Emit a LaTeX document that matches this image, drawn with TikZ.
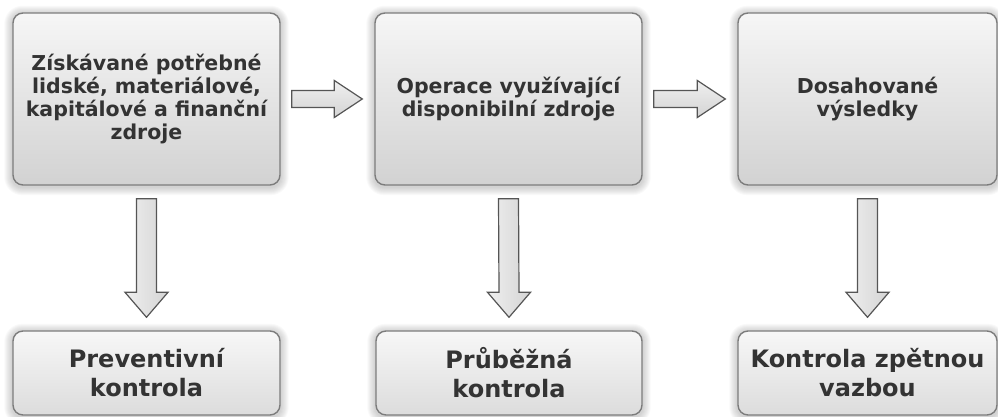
\documentclass[tikz,border=0pt]{standalone}
\usepackage{fontspec}
\setmainfont{DejaVu Sans}
\usetikzlibrary{calc,backgrounds}

\definecolor{boxtop}{HTML}{F6F6F6}
\definecolor{boxbottom}{HTML}{D2D2D2}
\definecolor{lowtop}{HTML}{F7F7F7}
\definecolor{lowbottom}{HTML}{DCDCDC}
\definecolor{boxline}{HTML}{7C7C7C}
\definecolor{arrowline}{HTML}{555555}
\definecolor{arrowtop}{HTML}{EFEFEF}
\definecolor{arrowbottom}{HTML}{D4D4D4}
\definecolor{labeltext}{HTML}{333333}

\tikzset{
  stagebox/.style={draw=boxline, line width=1.4pt, rounded corners=10pt,
    top color=boxtop, bottom color=boxbottom, minimum height=172pt,
    inner sep=4pt, align=center, text=labeltext,
    font=\bfseries\fontsize{20.5}{23}\selectfont},
  controlbox/.style={draw=boxline, line width=1.4pt, rounded corners=10pt,
    top color=lowtop, bottom color=lowbottom, minimum height=84pt,
    inner sep=4pt, align=center, text=labeltext,
    font=\bfseries\fontsize{24}{29}\selectfont},
  blockarrow/.style={draw=arrowline, line width=1.2pt, line join=miter,
    top color=arrowtop, bottom color=arrowbottom},
  downarrow/.style={draw=arrowline, line width=1.2pt, line join=miter,
    left color=arrowtop, right color=arrowbottom},
}

% right-pointing block arrow between two boxes in a row
\newcommand\rightblock[2]{%
  \path[blockarrow]
    ($(#1.east)+(11,8.5)$) -- ($(#2.west)+(-40,8.5)$) --
    ($(#2.west)+(-40,18.5)$) -- ($(#2.west)+(-12,0)$) --
    ($(#2.west)+(-40,-18.5)$) -- ($(#2.west)+(-40,-8.5)$) --
    ($(#1.east)+(11,-8.5)$) -- cycle;}
% downward block arrow from a stage to its control box
\newcommand\downblock[2]{%
  \path[downarrow]
    ($(#1.south)+(-10,-13)$) -- ($(#2.north)+(-10,38)$) --
    ($(#2.north)+(-21.5,38)$) -- ($(#2.north)+(0,13)$) --
    ($(#2.north)+(21.5,38)$) -- ($(#2.north)+(10,38)$) --
    ($(#1.south)+(10,-13)$) -- cycle;}

\begin{document}
\begin{tikzpicture}[x=1pt,y=1pt]
\useasboundingbox (0,0) rectangle (998,417);

% stages
\node[stagebox, minimum width=267pt] (s1) at (146.5,318)
  {Získávané potřebné\\lidské, materiálové,\\kapitálové a finanční\\zdroje};
\node[stagebox, minimum width=267pt] (s2) at (508.5,318)
  {Operace využívající\\disponibilní zdroje};
\node[stagebox, minimum width=259pt] (s3) at (867.5,318)
  {Dosahované\\výsledky};

% kinds of control
\node[controlbox, minimum width=267pt] (c1) at (146.5,44)
  {Preventivní\\kontrola};
\node[controlbox, minimum width=266pt] (c2) at (509,44)
  {Průběžná\\kontrola};
\node[controlbox, minimum width=259pt] (c3) at (867.5,44)
  {Kontrola zpětnou\\vazbou};

% soft shadows behind the boxes
\begin{scope}[on background layer]
  \foreach \b in {s1,s2,s3,c1,c2,c3}{
    \foreach \i in {1,...,8}{
      \pgfmathsetmacro\rr{10+\i}
      \fill[black, opacity=0.022, rounded corners=\rr pt]
        ($(\b.south west)+(-\i,-\i-1.5)$) rectangle ($(\b.north east)+(\i,\i-1.5)$);
    }
  }
\end{scope}

% flow between stages
\rightblock{s1}{s2}
\rightblock{s2}{s3}

% stage to control
\downblock{s1}{c1}
\downblock{s2}{c2}
\downblock{s3}{c3}
\end{tikzpicture}
\end{document}
